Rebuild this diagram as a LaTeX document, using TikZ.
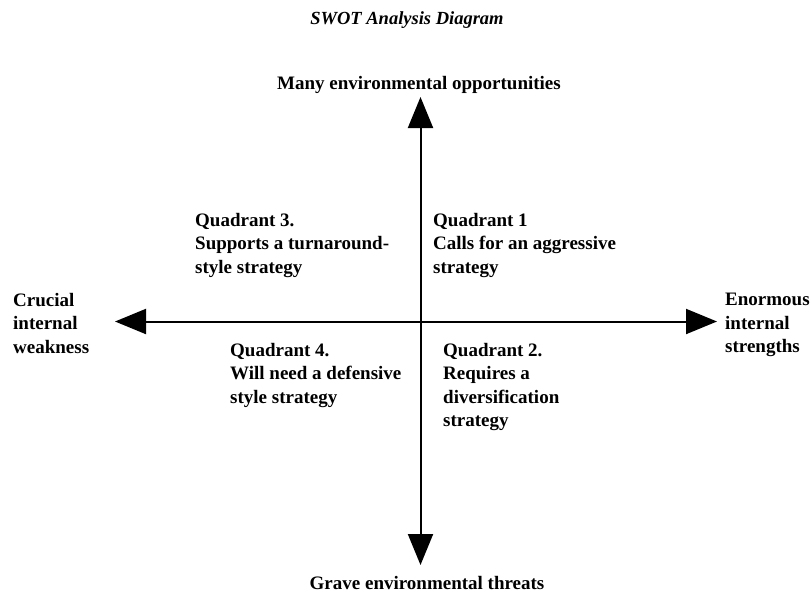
\documentclass[tikz,border=0pt]{standalone}
\usepackage{fontspec}
\setmainfont{Liberation Serif}
\usetikzlibrary{arrows.meta}
\tikzset{
    axis/.style={line width=2pt, {Triangle[length=31pt,width=25pt]}-{Triangle[length=31pt,width=25pt]}},
    lbl/.style={inner sep=0pt, align=left, font=\fontsize{19}{23.5}\selectfont\bfseries},
  }
\begin{document}
\begin{tikzpicture}[x=1pt,y=-1pt]
  %cadre de la figure (pixels, y vers le bas)
  \useasboundingbox (0,0) rectangle (811,592);
  \node[inner sep=0pt, font=\fontsize{18.5}{20}\selectfont\bfseries\itshape] (title) at (407,20) {SWOT Analysis Diagram};

  \coordinate (O) at (420.5,321.5);
  \coordinate (N) at (420.5,97);
  \coordinate (S) at (420.5,565);
  \coordinate (W) at (115,321.5);
  \coordinate (E) at (717,321.5);
  \draw[axis] (W) -- (E);
  \draw[axis] (N) -- (S);

  \node[lbl, anchor=base] (opp) at (419,89) {Many environmental opportunities};
  \node[lbl, anchor=base] (thr) at (427,589) {Grave environmental threats};
  \node[lbl, anchor=north west] (weak) at (13,293) {Crucial\\internal\\weakness};
  \node[lbl, anchor=north west] (str) at (725,293) {Enormous\\internal\\strengths};

  \node[lbl, anchor=north west] (q3) at (195,213) {Quadrant 3.\\Supports a turnaround-\\style strategy};
  \node[lbl, anchor=north west] (q1) at (433,213) {Quadrant 1\\Calls for an aggressive\\strategy};
  \node[lbl, anchor=north west] (q4) at (230,343) {Quadrant 4.\\Will need a defensive\\style strategy};
  \node[lbl, anchor=north west] (q2) at (443,343) {Quadrant 2.\\Requires a\\diversification\\strategy};
\end{tikzpicture}
\end{document}
